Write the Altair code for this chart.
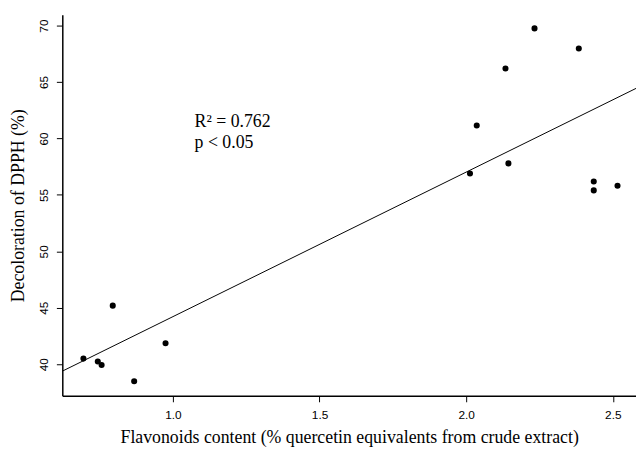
import altair as alt
import pandas as pd

# Data
flavonoids = [0.695, 0.744, 0.757, 0.795, 0.868, 0.975,
              2.013, 2.036, 2.134, 2.144, 2.233, 2.384, 2.435, 2.435, 2.516]
decoloration = [40.5, 40.24, 39.94, 45.19, 38.49, 41.86,
                56.9, 61.15, 66.19, 57.79, 69.75, 67.97, 56.19, 55.40, 55.81]

x_ticks = [1.0, 1.5, 2.0, 2.5]
y_ticks = [40, 45, 50, 55, 60, 65, 70]
x_domain = [0.623, 2.579]
y_domain = [37.2, 70.96]

notes = ["R² = 0.762", "p < 0.05"]
note_x = [1.074, 1.074]
note_y = [61.0, 59.15]

df = pd.DataFrame({"x": flavonoids, "y": decoloration})
notes_df = pd.DataFrame({"x": note_x, "y": note_y, "t": notes})

x_enc = alt.X("x:Q", scale=alt.Scale(domain=x_domain, nice=False, zero=False),
              axis=alt.Axis(values=x_ticks, format=".1f",
                            title="Flavonoids content (% quercetin equivalents from crude extract)"))
y_enc = alt.Y("y:Q", scale=alt.Scale(domain=y_domain, nice=False, zero=False),
              axis=alt.Axis(values=y_ticks, title="Decoloration of DPPH (%)"))

points = alt.Chart(df).mark_circle(color="black", opacity=1, size=38).encode(x=x_enc, y=y_enc)

line = alt.Chart(df).transform_regression(
    "x", "y", extent=x_domain
).mark_line(color="black", strokeWidth=1, clip=True).encode(x="x:Q", y="y:Q")

text = alt.Chart(notes_df).mark_text(
    align="left", baseline="alphabetic", font="Liberation Serif", fontSize=18, color="black"
).encode(x="x:Q", y="y:Q", text="t:N")

chart = alt.layer(line, points, text).properties(
    width=581, height=386,
    autosize=alt.AutoSizeParams(type="none"),
    padding={"left": 55, "top": 4, "right": 0, "bottom": 50},
).configure_view(stroke=None).configure_axis(
    grid=False,
    domainColor="black", domainWidth=1.5,
    tickColor="black", tickSize=6, tickWidth=1,
    labelFont="Liberation Sans", labelFontSize=12, labelColor="black",
    titleFont="Liberation Serif", titleFontSize=18, titleFontWeight="normal", titleColor="black",
).configure_axisX(
    labelPadding=8, titlePadding=8,
).configure_axisY(
    labelAngle=270, labelAlign="center", labelBaseline="bottom",
    labelPadding=6, titlePadding=10,
)

chart.save("out.html", embed_options={"renderer": "svg", "actions": False})
